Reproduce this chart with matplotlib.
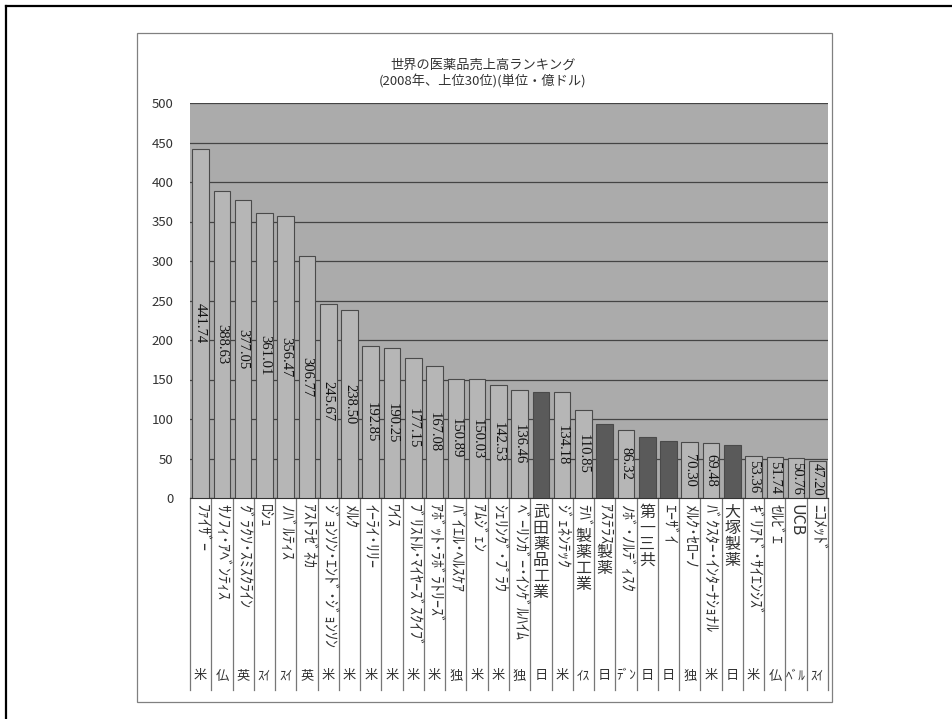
import matplotlib
matplotlib.use('Agg')
import matplotlib.pyplot as plt
from matplotlib.lines import Line2D
from matplotlib.patches import Rectangle
from matplotlib.transforms import blended_transform_factory

plt.rcParams['font.family'] = ['Noto Sans CJK JP', 'DejaVu Sans']

title1 = '世界の医薬品売上高ランキング'
title2 = '(2008年、上位30位)(単位・億ドル)'

companies = ['ﾌｧｲｻﾞｰ', 'ｻﾉﾌｨ･ｱﾍﾞﾝﾃｨｽ', 'ｸﾞﾗｸｿ･ｽﾐｽｸﾗｲﾝ', 'ﾛｼｭ', 'ﾉﾊﾞﾙﾃｨｽ',
             'ｱｽﾄﾗｾﾞﾈｶ', 'ｼﾞｮﾝｿﾝ･ｴﾝﾄﾞ･ｼﾞｮﾝｿﾝ', 'ﾒﾙｸ', 'ｲｰﾗｲ･ﾘﾘｰ', 'ﾜｲｽ',
             'ﾌﾞﾘｽﾄﾙ･ﾏｲﾔｰｽﾞｽｸｲﾌﾞ', 'ｱﾎﾞｯﾄ･ﾗﾎﾞﾗﾄﾘｰｽﾞ', 'ﾊﾞｲｴﾙ･ﾍﾙｽｹｱ', 'ｱﾑｼﾞｪﾝ',
             'ｼｪﾘﾝｸﾞ･ﾌﾟﾗｳ', 'ﾍﾞｰﾘﾝｶﾞｰ･ｲﾝｹﾞﾙﾊｲﾑ', '武田薬品工業', 'ｼﾞｪﾈﾝﾃｯｸ',
             'ﾃﾊﾞ製薬工業', 'ｱｽﾃﾗｽ製薬', 'ﾉﾎﾞ･ﾉﾙﾃﾞｨｽｸ', '第一三共', 'ｴｰｻﾞｲ',
             'ﾒﾙｸ･ｾﾛｰﾉ', 'ﾊﾞｸｽﾀｰ･ｲﾝﾀｰﾅｼｮﾅﾙ', '大塚製薬', 'ｷﾞﾘｱﾄﾞ･ｻｲｴﾝｼｽﾞ',
             'ｾﾙﾋﾞｴ', 'UCB', 'ﾆｺﾒｯﾄﾞ']
countries = ['米', '仏', '英', 'ｽｲ', 'ｽｲ', '英', '米', '米', '米', '米',
             '米', '米', '独', '米', '米', '独', '日', '米', 'ｲｽ', '日',
             'ﾃﾞﾝ', '日', '日', '独', '米', '日', '米', '仏', 'ﾍﾞﾙ', 'ｽｲ']
sales = [441.74, 388.63, 377.05, 361.01, 356.47, 306.77, 245.67, 238.50,
         192.85, 190.25, 177.15, 167.08, 150.89, 150.03, 142.53, 136.46,
         134.0, 134.18, 110.85, 94.0, 86.32, 77.0, 72.0, 70.30, 69.48,
         67.0, 53.36, 51.74, 50.76, 47.20]
yticks = list(range(0, 501, 50))

W, H = 953, 719
fig = plt.figure(figsize=(W / 100, H / 100), dpi=100)
fig.patch.set_facecolor('white')

# outer frame (partly cropped) and chart box
fig.add_artist(Line2D([6 / W, 6 / W], [0, 1 - 6 / H], color='black', lw=1.6))
fig.add_artist(Line2D([6 / W, 1], [1 - 6 / H, 1 - 6 / H], color='black', lw=1.6))
fig.add_artist(Rectangle((137 / W, 1 - 702 / H), (832 - 137) / W, (702 - 33) / H,
                         fill=False, ec='#808080', lw=0.9))

ax = fig.add_axes([190 / W, 1 - 498 / H, (828 - 190) / W, 395 / H])
ax.set_facecolor('#ababab')
ax.set_xlim(-0.5, len(sales) - 0.5)
ax.set_ylim(0, 500)
ax.set_yticks(yticks)
ax.set_xticks([])
ax.tick_params(axis='y', length=0, pad=12, labelsize=9.5, labelcolor='#333333')
for s in ['left', 'top', 'right']:
    ax.spines[s].set_visible(False)
ax.spines['bottom'].set_color('#333333')
ax.set_axisbelow(True)
ax.yaxis.grid(True, color='#444444', lw=0.9)

dark = [c == '日' for c in countries]
colors = ['#5a5a5a' if d else '#b6b6b6' for d in dark]
x = list(range(len(sales)))
ax.bar(x, sales, width=0.78, color=colors, edgecolor='#4a4a4a', lw=0.8, zorder=3)

for i, v in enumerate(sales):
    if dark[i]:
        continue
    ax.text(i, v / 2, f'{v:.2f}', rotation=-90, ha='center', va='center',
            fontsize=10.5, family='Liberation Serif', color='#111111', zorder=4)

# category cell lines
xt = blended_transform_factory(ax.transData, ax.transAxes)
bottom = (498 - 690) / 395
for k in range(len(sales) + 1):
    ax.plot([k - 0.5, k - 0.5], [0, bottom], transform=xt, color='#777777',
            lw=0.9, clip_on=False)


def runs(s):
    out = []
    for ch in s:
        upright = '\u4e00' <= ch <= '\u9fff'
        if out and not upright and not out[-1][0]:
            out[-1][1] += ch
        else:
            out.append([upright, ch])
    return out


name_fs = 11.5
for i, name in enumerate(companies):
    off = 4.5
    for upright, seg in runs(name):
        if upright:
            ax.annotate(seg, xy=(i, 0), xycoords=xt, xytext=(0, -(off + name_fs / 2)),
                        textcoords='offset points', ha='center', va='center',
                        fontsize=name_fs, color='#333333', annotation_clip=False)
            off += name_fs
        else:
            ax.annotate(seg, xy=(i, 0), xycoords=xt, xytext=(0, -off),
                        textcoords='offset points', rotation=-90, rotation_mode='anchor',
                        ha='left', va='center', fontsize=name_fs, color='#333333',
                        annotation_clip=False)
            off += name_fs * 0.5 * len(seg)

for i, c in enumerate(countries):
    ax.annotate(c, xy=(i, 0), xycoords=xt, xytext=(0, -(676 - 498) * 0.72),
                textcoords='offset points', ha='center', va='center',
                fontsize=9.5, color='#333333', annotation_clip=False)

fig.text(483 / W, 1 - 65 / H, title1, ha='center', va='center', fontsize=9.5, color='#333333')
fig.text(483 / W, 1 - 81 / H, title2, ha='center', va='center', fontsize=9.5, color='#333333')

fig.savefig('out.png', dpi=100)
